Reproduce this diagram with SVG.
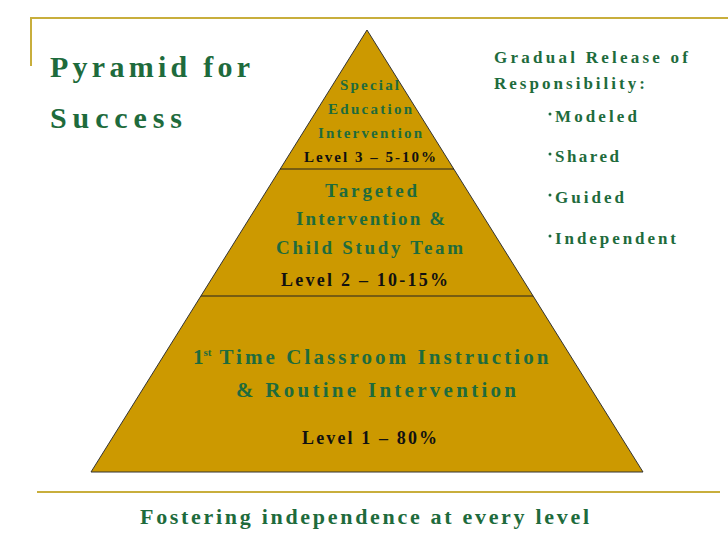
<svg xmlns="http://www.w3.org/2000/svg" width="728" height="546" viewBox="0 0 728 546">
<style>
.g{fill:#1e6b3c;font-family:"Liberation Serif",serif;font-weight:bold}
.k{fill:#111;font-family:"Liberation Serif",serif;font-weight:bold}
.rule{stroke:#c8ae3c;stroke-width:2;fill:none}
.b{fill:#1e6b3c}
</style>
<rect width="728" height="546" fill="#fff"/>
<path class="rule" d="M31 66V18H728"/>
<line class="rule" x1="37" y1="492" x2="720" y2="492"/>
<g id="pyramid">
<polygon points="367,30 643,472 91,472" fill="#cc9900" stroke="#333" stroke-width="1"/>
<line x1="280" y1="169" x2="454" y2="169" stroke="#222" stroke-width="1.2"/>
<line x1="201" y1="296" x2="533" y2="296" stroke="#222" stroke-width="1.2"/>
</g>
<g id="level3">
<text class="g" x="340" y="90" font-size="15" textLength="59">Special</text>
<text class="g" x="328" y="114" font-size="15" textLength="84">Education</text>
<text class="g" x="318" y="138" font-size="15" textLength="104">Intervention</text>
<text class="k" x="304" y="162" font-size="15" textLength="132">Level 3 – 5-10%</text>
</g>
<g id="level2">
<text class="g" x="325" y="197" font-size="19" textLength="92">Targeted</text>
<text class="g" x="296" y="225" font-size="19" textLength="149">Intervention &amp;</text>
<text class="g" x="276" y="254" font-size="19" textLength="187">Child Study Team</text>
<text class="k" x="281" y="286" font-size="18" textLength="167">Level 2 – 10-15%</text>
</g>
<g id="level1">
<text class="g" x="193" y="364" font-size="21">1<tspan font-size="11" dy="-8">st</tspan><tspan dy="8" textLength="337"> Time Classroom Instruction</tspan></text>
<text class="g" x="236" y="397" font-size="21" textLength="280">&amp; Routine Intervention</text>
<text class="k" x="302" y="444" font-size="18" textLength="135">Level 1 – 80%</text>
</g>
<g id="title">
<text class="g" x="50" y="77" font-size="30" textLength="200">Pyramid for</text>
<text class="g" x="50" y="128" font-size="30" textLength="132">Success</text>
</g>
<g id="release">
<text class="g" x="494" y="63" font-size="17" textLength="194">Gradual Release of</text>
<text class="g" x="494" y="89" font-size="17" textLength="151">Responsibility:</text>
<circle class="b" cx="550" cy="114" r="1.5"/>
<circle class="b" cx="550" cy="154" r="1.5"/>
<circle class="b" cx="550" cy="195" r="1.5"/>
<circle class="b" cx="550" cy="236" r="1.5"/>
<text class="g" x="555" y="122" font-size="17" textLength="82">Modeled</text>
<text class="g" x="555" y="162" font-size="17" textLength="64">Shared</text>
<text class="g" x="555" y="203" font-size="17" textLength="69">Guided</text>
<text class="g" x="555" y="244" font-size="17" textLength="121">Independent</text>
</g>
<text class="g" x="140" y="524" font-size="22" textLength="449">Fostering independence at every level</text>
</svg>
